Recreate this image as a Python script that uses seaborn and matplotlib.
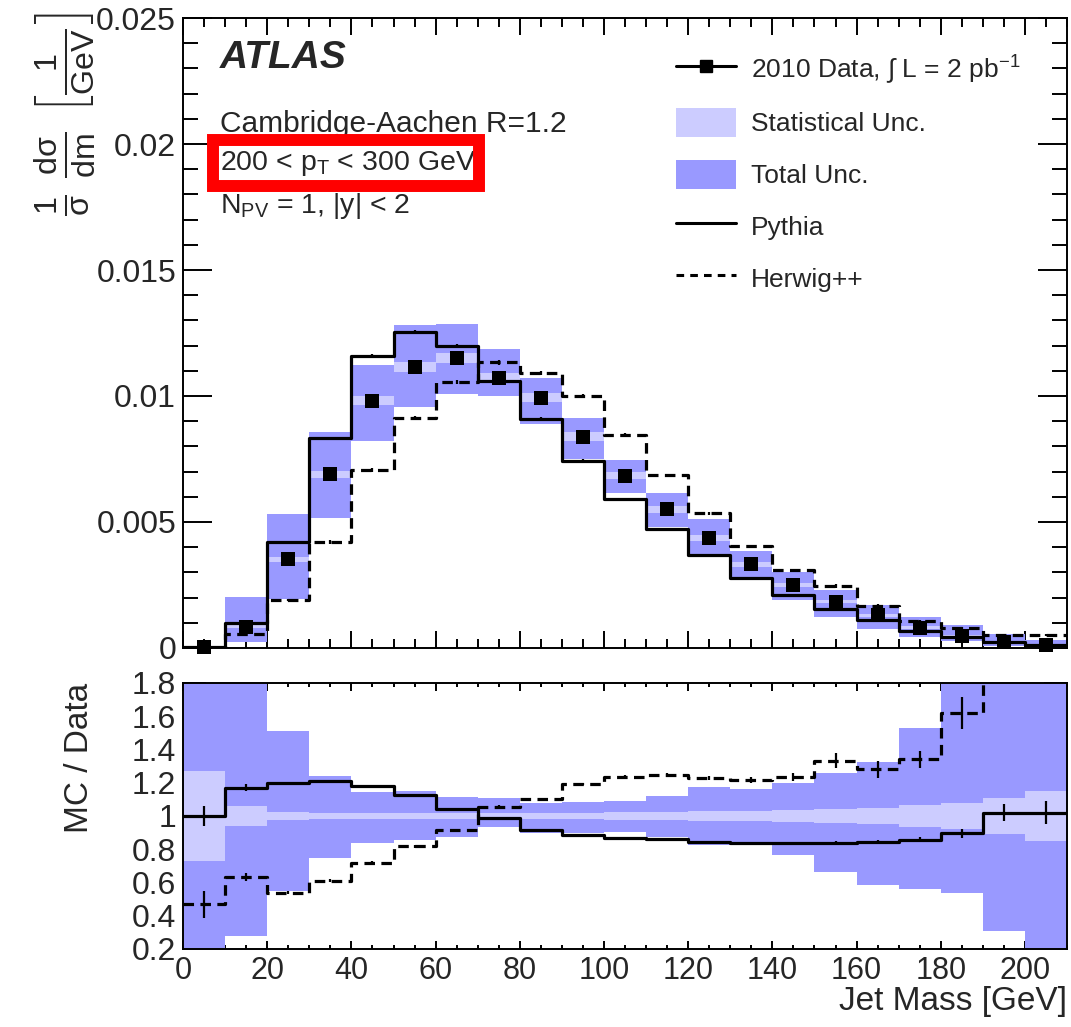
import numpy as np
import matplotlib
matplotlib.use("Agg")
import matplotlib.pyplot as plt
import seaborn as sns
from matplotlib.lines import Line2D
from matplotlib.patches import Patch, Rectangle
from matplotlib.ticker import MultipleLocator, FuncFormatter

# ---------------- data ----------------
mass_edges = [0, 10, 20, 30, 40, 50, 60, 70, 80, 90, 100, 110, 120, 130, 140,
              150, 160, 170, 180, 190, 200, 210]

data_vals = [0.00002, 0.00085, 0.00352, 0.00689, 0.00981, 0.01116, 0.01152,
             0.01073, 0.00993, 0.00839, 0.00684, 0.00550, 0.00435, 0.00332,
             0.00250, 0.00184, 0.00130, 0.00081, 0.00049, 0.00025, 0.00012]

# MC / Data ratios
pythia_ratio = [1.00, 1.17, 1.197, 1.21, 1.182, 1.124, 1.04, 0.988, 0.916, 0.886,
                0.866, 0.86, 0.845, 0.839, 0.836, 0.839, 0.842, 0.856, 0.896,
                1.02, 1.02]
pythia_err = [0.06, 0.02, 0.008, 0.006, 0.006, 0.006, 0.006, 0.006, 0.006, 0.006,
              0.006, 0.006, 0.007, 0.007, 0.008, 0.01, 0.012, 0.015, 0.027,
              0.052, 0.07]
herwig_ratio = [0.469, 0.633, 0.539, 0.611, 0.719, 0.818, 0.916, 1.056, 1.10, 1.193,
                1.236, 1.247, 1.227, 1.217, 1.236, 1.333, 1.281, 1.341, 1.618,
                2.1, 4.3]
herwig_err = [0.08, 0.022, 0.01, 0.01, 0.008, 0.008, 0.008, 0.008, 0.008, 0.008,
              0.01, 0.01, 0.012, 0.018, 0.024, 0.045, 0.05, 0.05, 0.095, 0.15, 0.3]

# relative uncertainties on data
stat_rel = [0.271, 0.06, 0.027, 0.02, 0.018, 0.017, 0.017, 0.017, 0.018, 0.02,
            0.022, 0.025, 0.028, 0.03, 0.035, 0.04, 0.049, 0.065, 0.08, 0.11, 0.152]
tot_up = [3.0, 2.4, 1.511, 1.242, 1.143, 1.148, 1.116, 1.106, 1.08, 1.086, 1.09,
          1.12, 1.173, 1.16, 1.2, 1.257, 1.327, 1.527, 1.9, 2.2, 2.7]
tot_down = [0.0, 0.28, 0.55, 0.749, 0.836, 0.856, 0.875, 0.932, 0.896, 0.896,
            0.902, 0.876, 0.826, 0.83, 0.765, 0.661, 0.585, 0.559, 0.539, 0.308, 0.0]

legend_labels = [r'2010 Data, $\int$ L = 2 pb$^{-1}$', 'Statistical Unc.',
                 'Total Unc.', 'Pythia', 'Herwig++']

# ---------------- style ----------------
sns.set_theme(style="ticks")
plt.rcParams['font.family'] = ['Liberation Sans', 'DejaVu Sans']
plt.rcParams['mathtext.fontset'] = 'custom'
plt.rcParams['mathtext.rm'] = 'Liberation Sans'
plt.rcParams['mathtext.it'] = 'Liberation Sans:italic'
plt.rcParams['mathtext.bf'] = 'Liberation Sans:bold'
plt.rcParams['mathtext.default'] = 'regular'
plt.rcParams['axes.edgecolor'] = 'black'
plt.rcParams['axes.linewidth'] = 1.4

STAT = '#ccccff'
TOT = '#9999ff'
LW = 2.3
DASH = (0, (3.3, 2.0))

edges = np.array(mass_edges, dtype=float)
centers = 0.5 * (edges[:-1] + edges[1:])
data = np.array(data_vals)
pyr = np.array(pythia_ratio)
pye = np.array(pythia_err)
hwr = np.array(herwig_ratio)
hwe = np.array(herwig_err)
srel = np.array(stat_rel)
tup = np.array(tot_up)
tdn = np.array(tot_down)


def ext(a):
    return np.append(a, a[-1])


fig = plt.figure(figsize=(10.71, 10.27), dpi=100)
ax = fig.add_axes([0.1709, 0.36904, 0.8254, 0.61343])
rax = fig.add_axes([0.1709, 0.07595, 0.8254, 0.25901])

# ---------------- top panel ----------------
ax.fill_between(edges, ext(data * tdn), ext(data * tup), step='post',
                color=TOT, lw=0, zorder=1)
ax.fill_between(edges, ext(data * (1 - srel)), ext(data * (1 + srel)), step='post',
                color=STAT, lw=0, zorder=2)
sns.lineplot(x=edges, y=ext(data * pyr), drawstyle='steps-post', estimator=None,
             sort=False, errorbar=None, color='black', lw=LW, ax=ax, zorder=3,
             legend=False)
sns.lineplot(x=edges, y=ext(data * hwr), drawstyle='steps-post', estimator=None,
             sort=False, errorbar=None, color='black', lw=LW, linestyle=DASH,
             ax=ax, zorder=3, legend=False)
ax.errorbar(centers, data * pyr, yerr=data * pye, fmt='none', ecolor='black',
            elinewidth=1.6, capsize=0, zorder=3)
ax.errorbar(centers, data * hwr, yerr=data * hwe, fmt='none', ecolor='black',
            elinewidth=1.6, capsize=0, zorder=3)
sns.scatterplot(x=centers, y=data, marker='s', s=115, color='black',
                edgecolor='black', linewidth=0, ax=ax, zorder=5, clip_on=False,
                legend=False)

ax.set_xlim(0, 210)
ax.set_ylim(0, 0.025)
ax.xaxis.set_major_locator(MultipleLocator(20))
ax.xaxis.set_minor_locator(MultipleLocator(5))
ax.yaxis.set_major_locator(MultipleLocator(0.005))
ax.yaxis.set_minor_locator(MultipleLocator(0.001))
fmt = FuncFormatter(lambda v, p: f'{v:g}')
ax.yaxis.set_major_formatter(fmt)
ax.tick_params(which='both', direction='in', top=True, right=True, width=1.4,
               color='black')
ax.tick_params(axis='x', labelbottom=False)
ax.tick_params(axis='y', which='major', length=21, labelsize=23, pad=5)
ax.tick_params(axis='y', which='minor', length=10.5)
ax.tick_params(axis='x', which='major', length=12)
ax.tick_params(axis='x', which='minor', length=6.5)
ax.set_xlabel('')
ax.set_ylabel(r'$\frac{1}{\sigma}\ \frac{d\sigma}{dm}\ \left[\frac{1}{GeV}\right]$',
              fontsize=33, loc='top')
ax.yaxis.set_label_coords(-0.096, 1.01)

# annotation texts
ax.text(0.0419, 0.9206, 'ATLAS', transform=ax.transAxes, fontsize=28,
        fontweight='bold', fontstyle='italic', va='baseline', ha='left')
ax.text(0.0419, 0.819, 'Cambridge-Aachen R=1.2', transform=ax.transAxes,
        fontsize=21.5, va='baseline', ha='left')
ax.text(0.0419, 0.7587, r'200 < p$_{T}$ < 300 GeV', transform=ax.transAxes,
        fontsize=20.5, va='baseline', ha='left')
ax.text(0.0419, 0.6905, r'N$_{PV}$ = 1, |y| < 2', transform=ax.transAxes,
        fontsize=20.5, va='baseline', ha='left')
ax.add_patch(Rectangle((0.0339, 0.7333), 0.3009, 0.073, transform=ax.transAxes,
                       fill=False, edgecolor='#ff0000', lw=8.6, clip_on=False,
                       zorder=10, joinstyle='miter'))

handles = [
    Line2D([], [], color='black', marker='s', markersize=9, lw=2.2),
    Patch(facecolor=STAT, edgecolor='none'),
    Patch(facecolor=TOT, edgecolor='none'),
    Line2D([], [], color='black', lw=2.2),
    Line2D([], [], color='black', lw=2.2, linestyle=(0, (2.5, 2.0))),
]
ax.legend(handles, legend_labels, loc='upper left', bbox_to_anchor=(0.558, 0.945),
          frameon=False, fontsize=19, handlelength=2.27, handleheight=1.33,
          handletextpad=0.55, labelspacing=0.85, borderpad=0, borderaxespad=0)

# ---------------- ratio panel ----------------
rax.fill_between(edges, ext(tdn), ext(tup), step='post', color=TOT, lw=0, zorder=1)
rax.fill_between(edges, ext(1 - srel), ext(1 + srel), step='post', color=STAT,
                 lw=0, zorder=2)
sns.lineplot(x=edges, y=ext(pyr), drawstyle='steps-post', estimator=None,
             sort=False, errorbar=None, color='black', lw=LW, ax=rax, zorder=3,
             legend=False)
sns.lineplot(x=edges, y=ext(hwr), drawstyle='steps-post', estimator=None,
             sort=False, errorbar=None, color='black', lw=LW, linestyle=DASH,
             ax=rax, zorder=3, legend=False)
rax.errorbar(centers, pyr, yerr=pye, fmt='none', ecolor='black', elinewidth=1.6,
             capsize=0, zorder=3)
rax.errorbar(centers, hwr, yerr=hwe, fmt='none', ecolor='black', elinewidth=1.6,
             capsize=0, zorder=3)

rax.set_xlim(0, 210)
rax.set_ylim(0.2, 1.8)
rax.xaxis.set_major_locator(MultipleLocator(20))
rax.xaxis.set_minor_locator(MultipleLocator(5))
rax.yaxis.set_major_locator(MultipleLocator(0.2))
rax.yaxis.set_minor_locator(MultipleLocator(0.05))
rax.yaxis.set_major_formatter(fmt)
rax.xaxis.set_major_formatter(fmt)
rax.tick_params(which='both', direction='in', top=True, right=True, width=1.4,
                color='black')
rax.tick_params(axis='y', which='major', length=16.5, labelsize=23, pad=5)
rax.tick_params(axis='y', which='minor', length=8)
rax.tick_params(axis='x', which='major', length=6, labelsize=22, pad=5)
rax.tick_params(axis='x', which='minor', length=3)
rax.set_ylabel('MC / Data', fontsize=24, loc='top')
rax.yaxis.set_label_coords(-0.10, 1.0)
rax.set_xlabel('Jet Mass [GeV]', fontsize=24, loc='right')
rax.xaxis.set_label_coords(1.0, -0.14)

fig.savefig('out.png', dpi=100)
